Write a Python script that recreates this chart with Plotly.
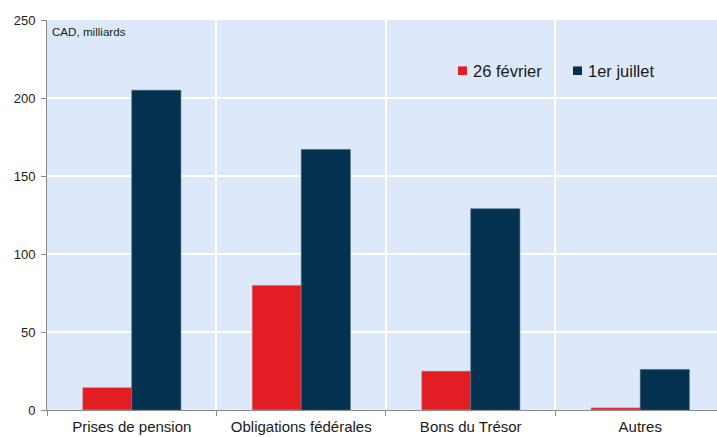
import plotly.graph_objects as go

categories = ["Prises de pension", "Obligations fédérales", "Bons du Trésor", "Autres"]
fevrier = [14.5, 80, 25, 1.5]
juillet = [205, 167, 129, 26]
series_names = ["26 février", "1er juillet"]

RED = "#e31d24"
NAVY = "#03314f"
AXIS = "#8c8c8c"
FONT = "Liberation Sans, Arial, sans-serif"
TEXT = "#1a1a1a"

fig = go.Figure()
fig.add_trace(go.Bar(x=categories, y=fevrier, name=series_names[0],
                     marker=dict(color=RED, line=dict(color="#c9b3b8", width=0.6))))
fig.add_trace(go.Bar(x=categories, y=juillet, name=series_names[1],
                     marker=dict(color=NAVY, line=dict(color="#47667f", width=0.6))))

# Compact legend: small square swatches next to the series names
legend_items = [(series_names[0], RED, 0.6134), (series_names[1], NAVY, 0.7851)]
shapes, annotations = [], []
for name, color, x0 in legend_items:
    shapes.append(dict(type="rect", xref="paper", yref="paper",
                       x0=x0, x1=x0 + 0.0134, y0=0.8590, y1=0.8810,
                       fillcolor=color, line=dict(width=0)))
    annotations.append(dict(text=name, x=x0 + 0.0194, y=0.8705, xref="paper", yref="paper",
                            xanchor="left", yanchor="middle", showarrow=False,
                            font=dict(size=16.5, family=FONT, color=TEXT)))

annotations.append(dict(text="CAD, milliards", x=0, y=1, xref="paper", yref="paper",
                        xanchor="left", yanchor="top", xshift=3, yshift=-3,
                        showarrow=False, font=dict(size=11.6, family=FONT, color=TEXT)))

fig.update_layout(
    width=717, height=437,
    margin=dict(l=47, r=0, t=20, b=27),
    paper_bgcolor="white",
    plot_bgcolor="#dde9fb",
    barmode="group",
    bargap=0.42,
    bargroupgap=0,
    font=dict(family=FONT, size=14, color=TEXT),
    showlegend=False,
    shapes=shapes,
    annotations=annotations,
)

fig.update_xaxes(
    type="category", tickson="boundaries", range=[-0.5, 3.453],
    showgrid=True, gridcolor="white", gridwidth=1.5,
    showline=True, linecolor=AXIS, linewidth=1,
    ticks="outside", ticklen=5, tickcolor=AXIS,
    ticklabelstandoff=3,
    tickfont=dict(size=15, family=FONT, color=TEXT),
)
fig.update_yaxes(
    range=[0, 250], dtick=50,
    showgrid=True, gridcolor="white", gridwidth=1.5,
    showline=True, linecolor=AXIS, linewidth=1,
    ticks="outside", ticklen=5, tickcolor=AXIS,
    ticklabelstandoff=3,
    tickfont=dict(size=13, family=FONT, color=TEXT),
    zeroline=False,
)

fig.write_html("out.html")
